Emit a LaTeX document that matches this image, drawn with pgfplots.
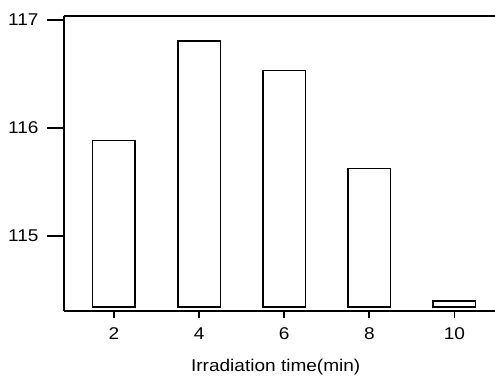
\documentclass[border=0pt]{standalone}
\usepackage{pgfplots}
\pgfplotsset{compat=1.18}
\usepackage{fontspec}
\setmainfont{Liberation Sans}[FakeStretch=1.12]
\begin{document}
\begin{tikzpicture}[x=1pt,y=1pt]
\begin{axis}[
  at={(63.5pt,66.3pt)}, anchor=south west,
  scale only axis, width=431.5pt, height=295pt,
  xmin=-0.593, xmax=4.477,
  ymin=114.309, ymax=117.04,
  axis lines*=left,
  axis line style={line width=2pt},
  ybar stacked, bar width=0.5,
  xtick={0,1,2,3,4}, xticklabels={2,4,6,8,10},
  ytick={115,116,117},
  tick align=outside,
  major tick length=16.5pt,
  xtick style={/pgfplots/major tick length=7.5pt},
  tick style={line width=1.8pt, black},
  /pgf/number format/assume math mode=true,
  ticklabel style={font=\fontsize{17}{19}\selectfont},
  xticklabel style={yshift=3pt},
  yticklabel style={xshift=-5pt},
  xlabel={Irradiation time(min)},
  xlabel style={font=\fontsize{17}{19}\selectfont, at={(axis description cs:0.4918,0)}, anchor=base, yshift=-61pt},
  clip=false,
]
\addplot[draw=none, fill=none] coordinates {(0,114.343) (1,114.343) (2,114.343) (3,114.343) (4,114.343)};
\addplot[draw=black, fill=white, line width=1.6pt] coordinates {(0,1.540) (1,2.460) (2,2.188) (3,1.284) (4,0.055)};
\draw[line width=2pt] (rel axis cs:0,1) -- (rel axis cs:1,1);
\end{axis}
\pgfresetboundingbox
\path[use as bounding box] (0,0) rectangle (495pt,377pt);
\end{tikzpicture}
\end{document}
